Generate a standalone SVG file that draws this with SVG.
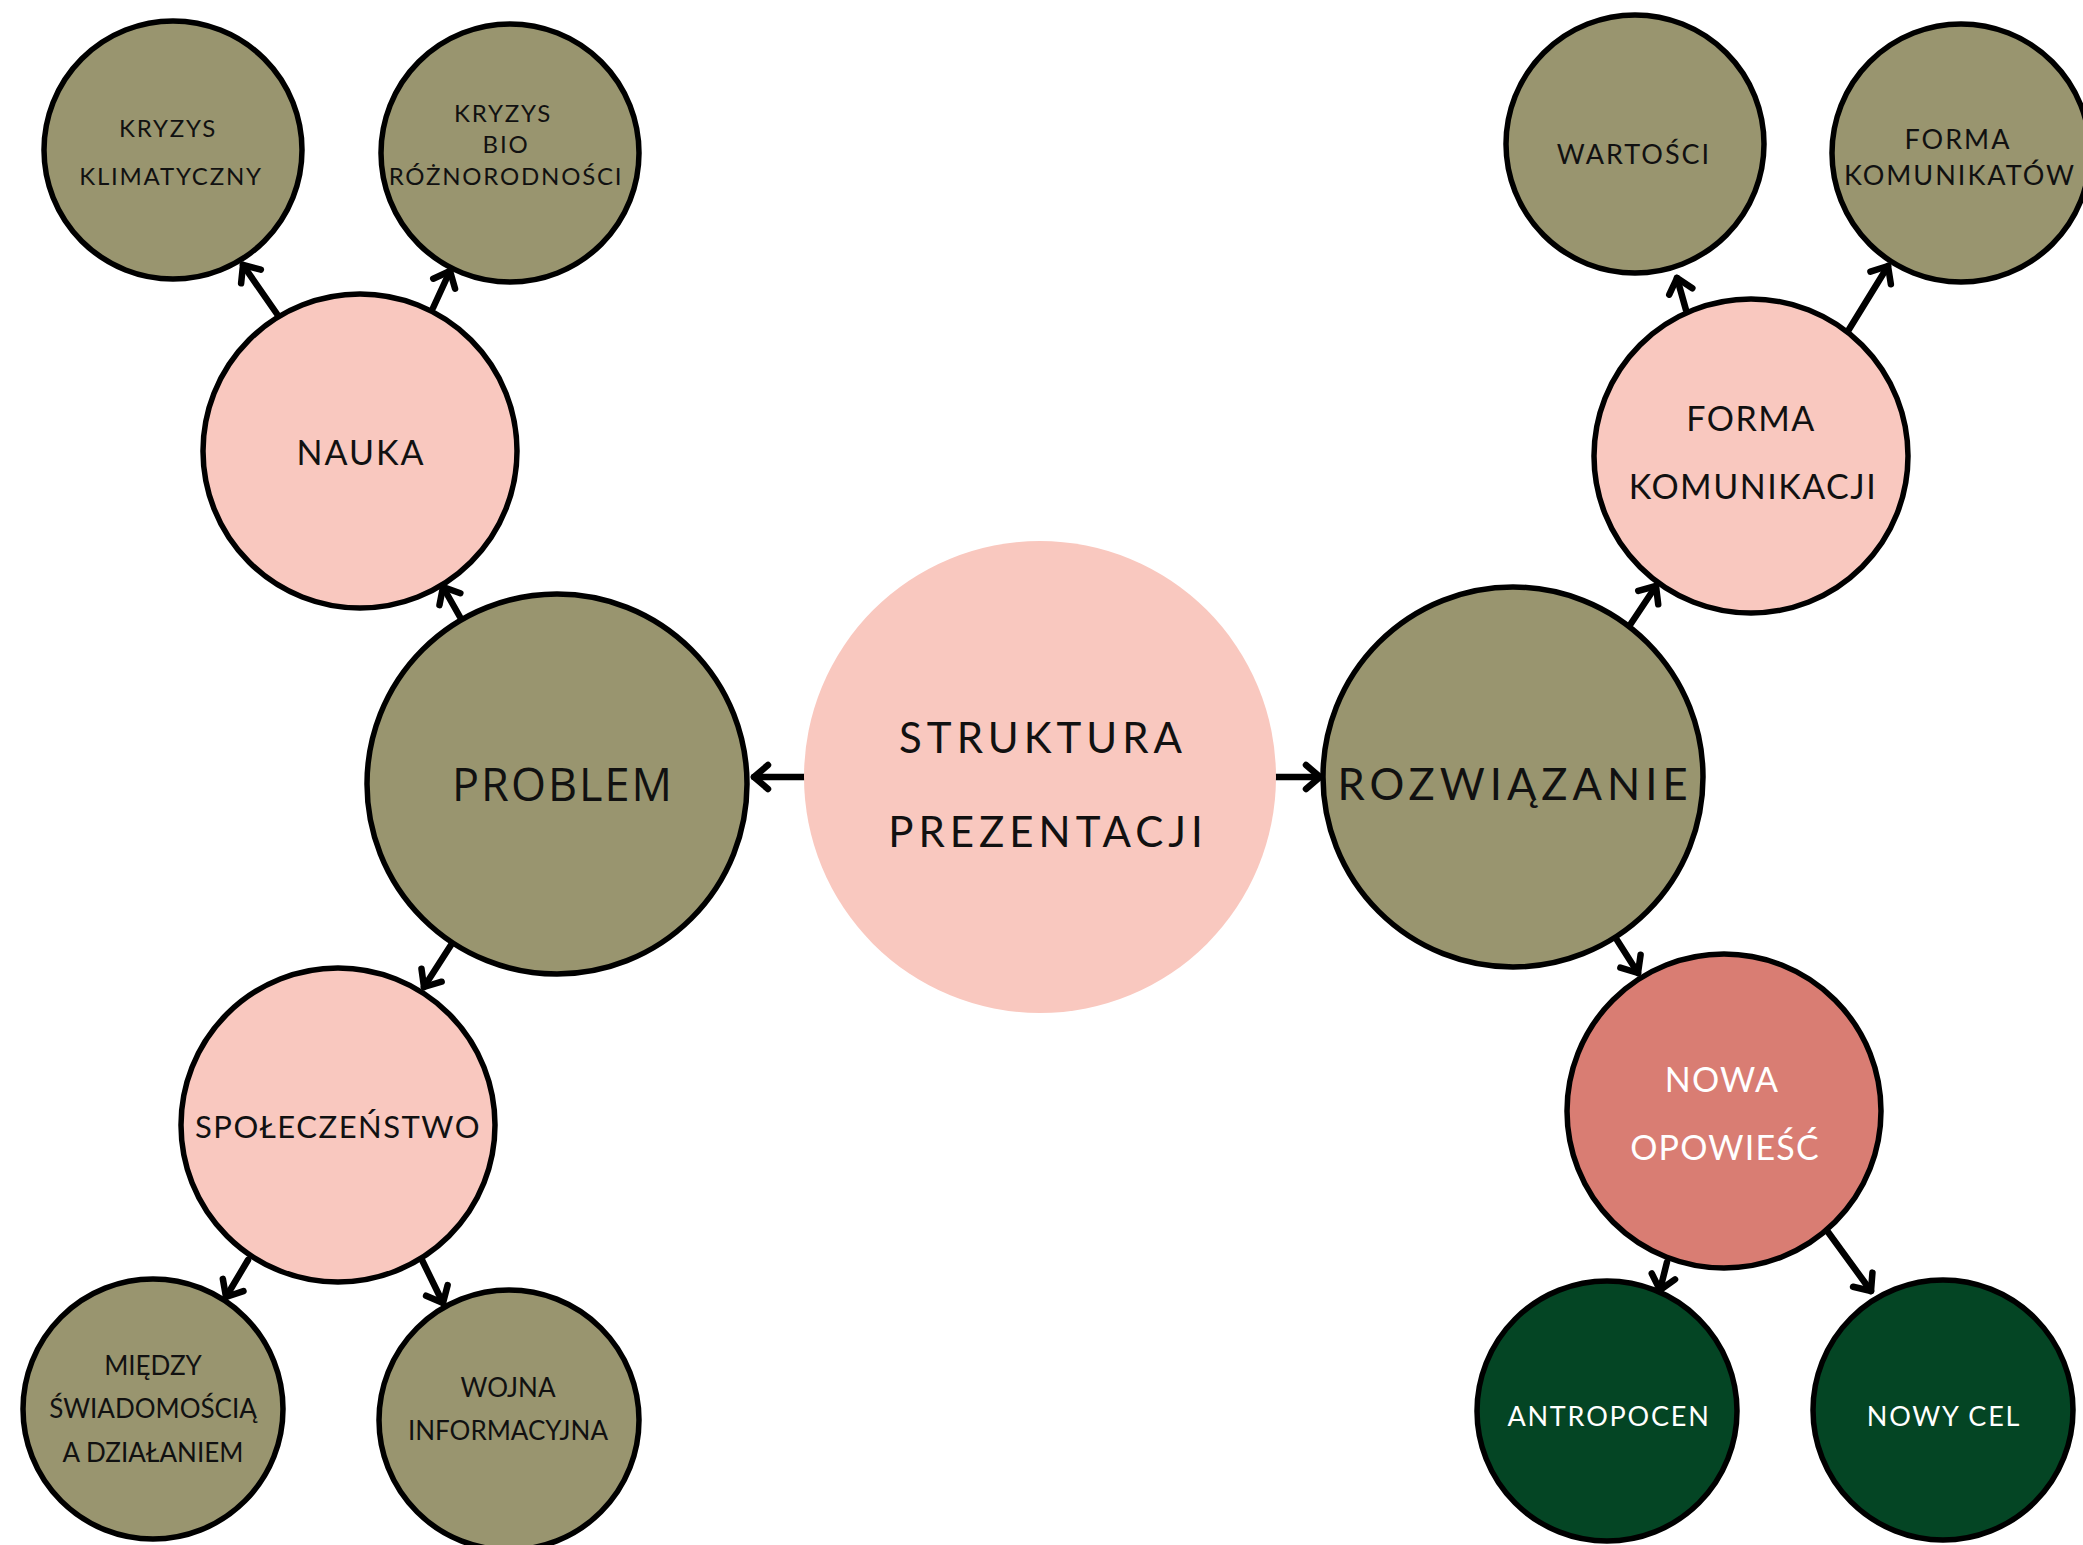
<svg xmlns="http://www.w3.org/2000/svg" width="2083" height="1545" viewBox="0 0 2083 1545">
<style>
.ol{fill:#99956f;stroke:#000;stroke-width:5.5}
.pk{fill:#f9c8bf;stroke:#000;stroke-width:5.5}
.cr{fill:#d97d73;stroke:#000;stroke-width:5.5}
.dg{fill:#044524;stroke:#000;stroke-width:5.5}
text{font-family:Lato,"Open Sans","DejaVu Sans",sans-serif;text-anchor:middle;fill:#111}
.s{font-size:24px;letter-spacing:1.8px}
.n{font-size:26px}
.m{font-size:34px;letter-spacing:2px}
.b{font-size:42px;letter-spacing:5px}
.w{fill:#fff}
.cn line{stroke:#000;stroke-width:6.5;stroke-linecap:round}
</style>
<defs>
<marker id="ah" markerUnits="userSpaceOnUse" markerWidth="40" markerHeight="40" viewBox="-20 -20 40 40" refX="0" refY="0" orient="auto" overflow="visible">
<path d="M-14,-12 L0,0 L-14,12" fill="none" stroke="#000" stroke-width="6.5" stroke-linecap="round" stroke-linejoin="round"/>
</marker>
</defs>
<rect width="2083" height="1545" fill="#fff"/>
<g class="cn" id="connectors">
<line x1="812" y1="777" x2="754" y2="777" marker-end="url(#ah)"/>
<line x1="1273" y1="777" x2="1320" y2="777" marker-end="url(#ah)"/>
<line x1="460" y1="617" x2="443" y2="587" marker-end="url(#ah)"/>
<line x1="277" y1="314" x2="243" y2="265" marker-end="url(#ah)"/>
<line x1="433" y1="308" x2="450" y2="271" marker-end="url(#ah)"/>
<line x1="451" y1="945" x2="424" y2="987" marker-end="url(#ah)"/>
<line x1="248" y1="1260" x2="226" y2="1297" marker-end="url(#ah)"/>
<line x1="422" y1="1260" x2="443" y2="1303" marker-end="url(#ah)"/>
<line x1="1630" y1="625" x2="1656" y2="586" marker-end="url(#ah)"/>
<line x1="1686" y1="310" x2="1677" y2="278" marker-end="url(#ah)"/>
<line x1="1848" y1="331" x2="1888" y2="266" marker-end="url(#ah)"/>
<line x1="1617" y1="940" x2="1638" y2="973" marker-end="url(#ah)"/>
<line x1="1667" y1="1262" x2="1660" y2="1290" marker-end="url(#ah)"/>
<line x1="1828" y1="1232" x2="1871" y2="1291" marker-end="url(#ah)"/>
</g>
<g id="struktura">
<circle cx="1040" cy="777" r="236" fill="#f9c8bf"/>
<text class="b" x="1043" y="753">STRUKTURA</text>
<text class="b" x="1048" y="847">PREZENTACJI</text>
</g>
<g id="problem">
<circle class="ol" cx="557" cy="784" r="190" stroke-width="6.5"/>
<text x="563" y="801" style="font-family:'Open Sans','Noto Sans',sans-serif;font-size:45px;letter-spacing:2px">PROBLEM</text>
</g>
<g id="rozwiazanie">
<circle class="ol" cx="1513" cy="777" r="190"/>
<text class="b" x="1515" y="800" style="font-size:43.5px;letter-spacing:5px">ROZWIĄZANIE</text>
</g>
<g id="nauka">
<circle class="pk" cx="360" cy="451" r="157"/>
<text class="m" x="361" y="465">NAUKA</text>
</g>
<g id="spoleczenstwo">
<circle class="pk" cx="338" cy="1125" r="157"/>
<text class="m" x="338" y="1138" style="font-size:31px;letter-spacing:1.5px">SPOŁECZEŃSTWO</text>
</g>
<g id="forma-komunikacji">
<circle class="pk" cx="1751" cy="456" r="157"/>
<text class="m" x="1751" y="431" style="font-size:34px;letter-spacing:1.5px">FORMA</text>
<text class="m" x="1753" y="499" style="font-size:34px;letter-spacing:1.5px">KOMUNIKACJI</text>
</g>
<g id="nowa-opowiesc">
<circle class="cr" cx="1724" cy="1111" r="157"/>
<text class="m w" x="1722" y="1092" style="font-size:34px;letter-spacing:1.2px">NOWA</text>
<text class="m w" x="1725" y="1160" style="font-size:34px;letter-spacing:1.2px">OPOWIEŚĆ</text>
</g>
<g id="kryzys-klimatyczny">
<circle class="ol" cx="173" cy="150" r="129"/>
<text class="s" x="168" y="137">KRYZYS</text>
<text class="s" x="171" y="185">KLIMATYCZNY</text>
</g>
<g id="kryzys-bio">
<circle class="ol" cx="510" cy="153" r="129"/>
<text class="s" x="503" y="122">KRYZYS</text>
<text class="s" x="506" y="153">BIO</text>
<text class="s" x="506" y="185">RÓŻNORODNOŚCI</text>
</g>
<g id="wartosci">
<circle class="ol" cx="1635" cy="144" r="129"/>
<text class="s" x="1634" y="164" style="font-size:27px;letter-spacing:2px">WARTOŚCI</text>
</g>
<g id="forma-komunikatow">
<circle class="ol" cx="1961" cy="153" r="129"/>
<text class="s" x="1958" y="149" style="font-size:27px;letter-spacing:2px">FORMA</text>
<text class="s" x="1960" y="185" style="font-size:27px;letter-spacing:2px">KOMUNIKATÓW</text>
</g>
<g id="miedzy">
<circle class="ol" cx="153" cy="1409" r="130"/>
<text class="n" x="153" y="1375">MIĘDZY</text>
<text class="n" x="153" y="1418">ŚWIADOMOŚCIĄ</text>
<text class="n" x="153" y="1462">A DZIAŁANIEM</text>
</g>
<g id="wojna">
<circle class="ol" cx="509" cy="1420" r="130"/>
<text class="n" x="508" y="1397">WOJNA</text>
<text class="n" x="508" y="1440">INFORMACYJNA</text>
</g>
<g id="antropocen">
<circle class="dg" cx="1607" cy="1411" r="130"/>
<text class="s w" x="1609" y="1426" style="font-size:27px">ANTROPOCEN</text>
</g>
<g id="nowy-cel">
<circle class="dg" cx="1943" cy="1410" r="130"/>
<text class="s w" x="1944" y="1426" style="font-size:27px">NOWY CEL</text>
</g>
</svg>
